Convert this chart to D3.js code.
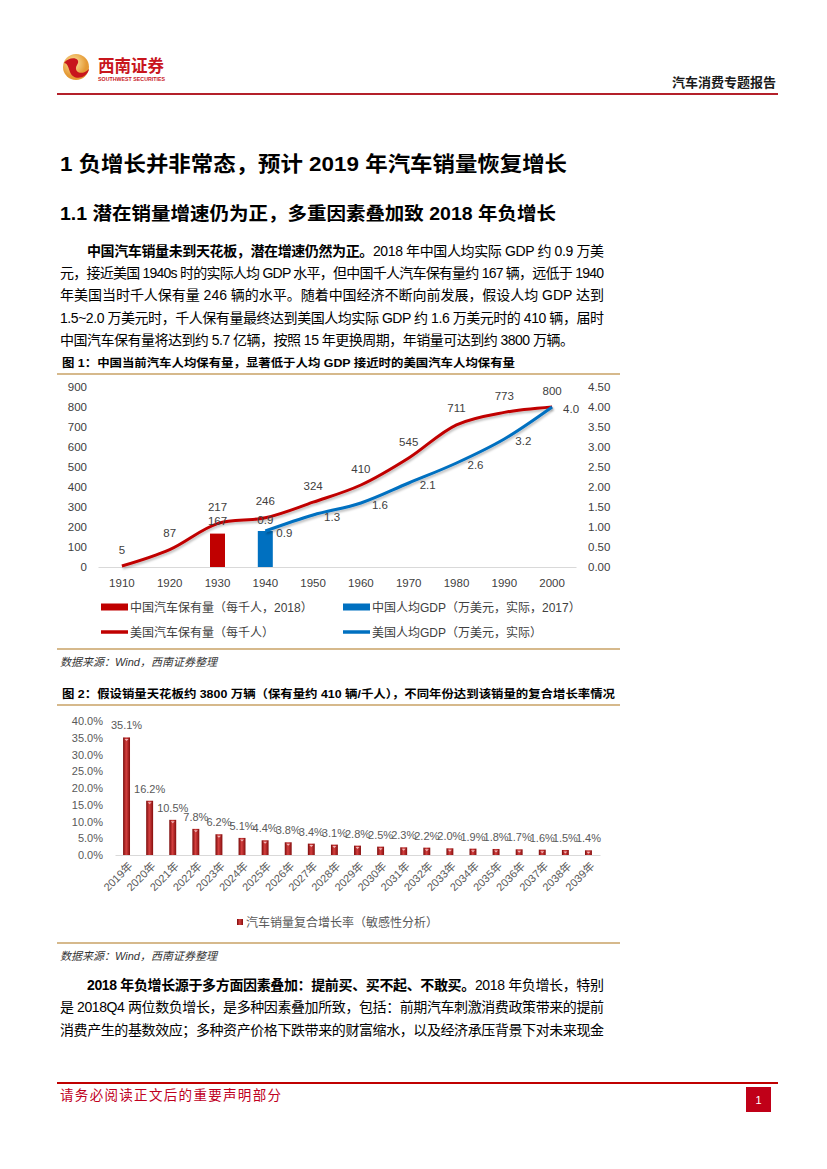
<!DOCTYPE html>
<html><head><meta charset="utf-8">
<script src="https://cdn.jsdelivr.net/npm/d3@7"></script>
<style>
body{margin:0;background:#fff}
svg text{font-family:"Liberation Sans","Noto Sans CJK SC",sans-serif}
</style></head><body>
<svg id="page" width="827" height="1169"></svg>
<script>
// ---------- DATA ----------
const years1 = ["1910","1920","1930","1940","1950","1960","1970","1980","1990","2000"];
const usCars = [5,87,217,246,324,410,545,711,773,800];
const usGdpYears = ["1940","1950","1960","1970","1980","1990","2000"];
const usGdp = [0.9,1.3,1.6,2.1,2.6,3.2,4.0];
const cnCarsYear = ["1930"];
const cnCars = [167];
const cnGdpYear = ["1940"];
const cnGdp = [0.9];
const leftTicks1 = [0,100,200,300,400,500,600,700,800,900];
const rightTicks1 = [0,0.5,1,1.5,2,2.5,3,3.5,4,4.5];

const years2 = ["2019年","2020年","2021年","2022年","2023年","2024年","2025年","2026年","2027年","2028年","2029年","2030年","2031年","2032年","2033年","2034年","2035年","2036年","2037年","2038年","2039年"];
const cagr = [35.1,16.2,10.5,7.8,6.2,5.1,4.4,3.8,3.4,3.1,2.8,2.5,2.3,2.2,2.0,1.9,1.8,1.7,1.6,1.5,1.4];
const ticks2 = [0,5,10,15,20,25,30,35,40];

// ---------- PAGE ----------
const svg = d3.select("#page");
const defs = svg.append("defs");
const NUM = 'Lato, "Noto Sans CJK SC", sans-serif';

// header logo
const lg = defs.append("radialGradient").attr("id","logoG").attr("cx","40%").attr("cy","35%");
lg.append("stop").attr("offset","0%").attr("stop-color","#fde9a6");
lg.append("stop").attr("offset","100%").attr("stop-color","#e59a35");
svg.append("circle").attr("cx",76).attr("cy",67).attr("r",13).attr("fill","url(#logoG)");
svg.append("path").attr("d","M64,63 C70,55 82,58 77,65 C73,71 81,77 89,69 C87,79 73,81 70,72 C68,66 67,63 64,63Z").attr("fill","#c8161d");
svg.append("text").attr("x",98).attr("y",72).attr("font-size",17).attr("font-weight",700)
  .attr("fill","#c8161d").attr("textLength",66).attr("lengthAdjust","spacingAndGlyphs").text("西南证券");
svg.append("text").attr("x",98).attr("y",80.5).attr("font-size",5.5).attr("font-weight",700)
  .attr("fill","#c8161d").attr("textLength",67).attr("lengthAdjust","spacingAndGlyphs").text("SOUTHWEST SECURITIES");
svg.append("text").attr("x",776).attr("y",87).attr("text-anchor","end").attr("font-size",13).attr("font-weight",700)
  .attr("fill","#1a1a1a").text("汽车消费专题报告");
svg.append("line").attr("x1",57).attr("x2",778).attr("y1",94).attr("y2",94).attr("stroke","#b4202a").attr("stroke-width",2.2);

// titles
svg.append("text").attr("x",60).attr("y",171).attr("font-size",21).attr("font-weight",700).attr("fill","#000")
  .attr("textLength",507).attr("lengthAdjust","spacingAndGlyphs").text("1  负增长并非常态，预计 2019 年汽车销量恢复增长");
svg.append("text").attr("x",60).attr("y",220).attr("font-size",18.5).attr("font-weight",700).attr("fill","#000")
  .attr("textLength",496).attr("lengthAdjust","spacingAndGlyphs").text("1.1  潜在销量增速仍为正，多重因素叠加致 2018 年负增长");

// paragraph helper
function para(lines, y0, dy){
  lines.forEach((ln,i)=>{
    const t = svg.append("text").attr("x",ln.x).attr("y",y0+i*dy).attr("font-size",14).attr("fill","#000");
    if(ln.w) t.attr("textLength",ln.w).attr("lengthAdjust","spacing");
    ln.s.forEach(sg=>{
      t.append("tspan").attr("font-weight",sg.b?700:400).text(sg.t);
    });
  });
}
para([
  {x:87,w:517,s:[{t:"中国汽车销量未到天花板，潜在增速仍然为正。",b:true},{t:"2018 年中国人均实际 GDP 约 0.9 万美"}]},
  {x:60,w:544,s:[{t:"元，接近美国 1940s 时的实际人均 GDP 水平，但中国千人汽车保有量约 167 辆，远低于 1940"}]},
  {x:60,w:544,s:[{t:"年美国当时千人保有量  246  辆的水平。随着中国经济不断向前发展，假设人均  GDP  达到"}]},
  {x:60,w:544,s:[{t:"1.5~2.0 万美元时，千人保有量最终达到美国人均实际 GDP 约 1.6 万美元时的 410 辆，届时"}]},
  {x:60,w:514,s:[{t:"中国汽车保有量将达到约 5.7 亿辆，按照 15 年更换周期，年销量可达到约 3800 万辆。"}]}
], 256, 22.2);

// ---------- FIGURE 1 ----------
svg.append("text").attr("x",62).attr("y",367).attr("font-size",11.5).attr("font-weight",700).attr("fill","#000")
  .attr("textLength",453).attr("lengthAdjust","spacingAndGlyphs")
  .text("图 1：中国当前汽车人均保有量，显著低于人均 GDP 接近时的美国汽车人均保有量");
svg.append("line").attr("x1",57).attr("x2",620).attr("y1",374).attr("y2",374).attr("stroke","#c9a266").attr("stroke-width",1.5);

const x1 = d3.scaleBand().domain(years1).range([98,576]);
const xc1 = d => x1(d)+x1.bandwidth()/2;
const yL = d3.scaleLinear().domain([0,900]).range([567,387]);
const yR = d3.scaleLinear().domain([0,4.5]).range([567,387]);

const shadow = defs.append("filter").attr("id","sh").attr("x","-10%").attr("y","-10%").attr("width","130%").attr("height","140%");
shadow.append("feDropShadow").attr("dx",1).attr("dy",2).attr("stdDeviation",1.2).attr("flood-color","#000").attr("flood-opacity",0.25);

const g1 = svg.append("g");
const axL = g1.append("g").attr("transform","translate(92,0)")
  .call(d3.axisLeft(yL).tickValues(leftTicks1).tickSize(0).tickPadding(5));
const axR = g1.append("g").attr("transform","translate(584,0)")
  .call(d3.axisRight(yR).tickValues(rightTicks1).tickSize(0).tickPadding(4).tickFormat(d3.format(".2f")));
const axB = g1.append("g").attr("transform","translate(0,567)")
  .call(d3.axisBottom(x1).tickSize(0).tickPadding(12));
[axL,axR].forEach(a=>a.select(".domain").remove());
axB.select(".domain").attr("stroke","#d9d9d9").attr("stroke-width",1);
[axL,axR,axB].forEach(a=>a.selectAll("text").attr("font-family",NUM).attr("font-size",11.5).attr("fill","#404040"));

// bars
g1.selectAll(".cnc").data(cnCars).enter().append("rect")
  .attr("x",(d,i)=>xc1(cnCarsYear[i])-7.5).attr("width",15)
  .attr("y",d=>yL(d)).attr("height",d=>yL(0)-yL(d)).attr("fill","#c00000");
g1.selectAll(".cng").data(cnGdp).enter().append("rect")
  .attr("x",(d,i)=>xc1(cnGdpYear[i])-7.5).attr("width",15)
  .attr("y",d=>yR(d)).attr("height",d=>yR(0)-yR(d)).attr("fill","#0070c0");

// lines
const lineCars = d3.line().x((d,i)=>xc1(years1[i])).y(d=>yL(d)).curve(d3.curveCatmullRom.alpha(0.5));
g1.append("path").attr("d",lineCars(usCars)).attr("fill","none").attr("stroke","#c00000").attr("stroke-width",3).attr("filter","url(#sh)");
const lineGdp = d3.line().x((d,i)=>xc1(usGdpYears[i])).y(d=>yR(d)).curve(d3.curveCatmullRom.alpha(0.5));
g1.append("path").attr("d",lineGdp(usGdp)).attr("fill","none").attr("stroke","#0070c0").attr("stroke-width",3).attr("filter","url(#sh)");

// labels
const lab = sel => sel.attr("font-family",NUM).attr("font-size",11.5).attr("fill","#404040");
g1.selectAll(".lc").data(usCars).enter().append("text").call(lab)
  .attr("x",(d,i)=>xc1(years1[i])).attr("y",d=>yL(d)-12.5).attr("text-anchor","middle").text(d=>d);
g1.selectAll(".lg").data(usGdp).enter().append("text").call(lab)
  .attr("x",(d,i)=>xc1(usGdpYears[i])+11).attr("y",d=>yR(d)+6).attr("text-anchor","start").text(d=>d.toFixed(1));
g1.selectAll(".lcc").data(cnCars).enter().append("text").call(lab)
  .attr("x",(d,i)=>xc1(cnCarsYear[i])).attr("y",d=>yL(d)-9).attr("text-anchor","middle").text(d=>d);
g1.selectAll(".lcg").data(cnGdp).enter().append("text").call(lab)
  .attr("x",(d,i)=>xc1(cnGdpYear[i])).attr("y",d=>yR(d)-7).attr("text-anchor","middle").text(d=>d.toFixed(1));

// legend 1
const leg1 = [
  {type:"rect",c:"#c00000",t:"中国汽车保有量（每千人，2018）",x:101,y:607},
  {type:"rect",c:"#0070c0",t:"中国人均GDP（万美元，实际，2017）",x:343,y:607},
  {type:"line",c:"#c00000",t:"美国汽车保有量（每千人）",x:101,y:632},
  {type:"line",c:"#0070c0",t:"美国人均GDP（万美元，实际）",x:343,y:632}
];
leg1.forEach(l=>{
  if(l.type==="rect") svg.append("rect").attr("x",l.x).attr("y",l.y-3.5).attr("width",27).attr("height",7).attr("fill",l.c);
  else svg.append("line").attr("x1",l.x).attr("x2",l.x+27).attr("y1",l.y).attr("y2",l.y).attr("stroke",l.c).attr("stroke-width",3.5);
  svg.append("text").attr("x",l.x+29).attr("y",l.y+4.5).attr("font-size",12).attr("fill","#404040").text(l.t);
});
svg.append("line").attr("x1",57).attr("x2",620).attr("y1",649).attr("y2",649).attr("stroke","#c9a266").attr("stroke-width",1.5);
svg.append("text").attr("x",60).attr("y",666).attr("font-size",11).attr("font-style","italic").attr("fill","#333").text("数据来源：Wind，西南证券整理");

// ---------- FIGURE 2 ----------
svg.append("text").attr("x",62).attr("y",698).attr("font-size",11.5).attr("font-weight",700).attr("fill","#000")
  .attr("textLength",553).attr("lengthAdjust","spacingAndGlyphs")
  .text("图 2：假设销量天花板约 3800 万辆（保有量约 410 辆/千人），不同年份达到该销量的复合增长率情况");
svg.append("line").attr("x1",57).attr("x2",620).attr("y1",705).attr("y2",705).attr("stroke","#c9a266").attr("stroke-width",1.5);

const x2 = d3.scaleBand().domain(years2).range([115,600]).paddingInner(0.7).paddingOuter(0.35);
const y2 = d3.scaleLinear().domain([0,40]).range([855,721]);
const bg = defs.append("linearGradient").attr("id","barG").attr("x1","0").attr("x2","1").attr("y1","0").attr("y2","0");
bg.append("stop").attr("offset","0%").attr("stop-color","#7a0a0a");
bg.append("stop").attr("offset","45%").attr("stop-color","#d4403f");
bg.append("stop").attr("offset","100%").attr("stop-color","#850d0d");

const g2 = svg.append("g");
const ax2 = g2.append("g").attr("transform","translate(108,0)")
  .call(d3.axisLeft(y2).tickValues(ticks2).tickSize(0).tickPadding(5).tickFormat(d=>d.toFixed(1)+"%"));
ax2.select(".domain").remove();
ax2.selectAll("text").attr("font-family",NUM).attr("font-size",11).attr("fill","#595959");
const ax2b = g2.append("g").attr("transform","translate(0,855)")
  .call(d3.axisBottom(x2).tickSize(0));
ax2b.select(".domain").attr("stroke","#d9d9d9");
ax2b.selectAll("text").attr("font-family",NUM).attr("font-size",11).attr("fill","#595959")
  .attr("x",0).attr("y",0).attr("dy","0.35em").attr("text-anchor","end").attr("transform","translate(4,9) rotate(-45)");

g2.selectAll(".b2").data(cagr).enter().append("rect")
  .attr("x",(d,i)=>x2(years2[i])).attr("width",x2.bandwidth())
  .attr("y",d=>y2(d)).attr("height",d=>y2(0)-y2(d)).attr("fill","url(#barG)");
g2.selectAll(".m2").data(cagr).enter().append("path")
  .attr("d",(d,i)=>{const c=x2(years2[i])+x2.bandwidth()/2, t=y2(d); return `M${c-2},${t+1.5}L${c+2},${t+1.5}L${c},${t+3.5}Z`;})
  .attr("fill","#f2b8b8");
g2.selectAll(".l2").data(cagr).enter().append("text")
  .attr("x",(d,i)=>x2(years2[i])+x2.bandwidth()/2).attr("y",d=>y2(d)-8)
  .attr("text-anchor","middle").attr("font-family",NUM).attr("font-size",11).attr("fill","#595959")
  .text(d=>d.toFixed(1)+"%");

// legend 2
svg.append("rect").attr("x",237).attr("y",919).attr("width",6).attr("height",6).attr("fill","url(#barG)");
svg.append("text").attr("x",246).attr("y",926.5).attr("font-size",12).attr("fill","#595959").text("汽车销量复合增长率（敏感性分析）");
svg.append("line").attr("x1",57).attr("x2",620).attr("y1",943).attr("y2",943).attr("stroke","#c9a266").attr("stroke-width",1.5);
svg.append("text").attr("x",60).attr("y",960).attr("font-size",11).attr("font-style","italic").attr("fill","#333").text("数据来源：Wind，西南证券整理");

// paragraph 2
para([
  {x:87,w:517,s:[{t:"2018 年负增长源于多方面因素叠加：提前买、买不起、不敢买。",b:true},{t:"2018 年负增长，特别"}]},
  {x:60,w:544,s:[{t:"是 2018Q4 两位数负增长，是多种因素叠加所致，包括：前期汽车刺激消费政策带来的提前"}]},
  {x:60,w:544,s:[{t:"消费产生的基数效应；多种资产价格下跌带来的财富缩水，以及经济承压背景下对未来现金"}]}
], 990, 22.3);

// footer
svg.append("line").attr("x1",57).attr("x2",778).attr("y1",1083).attr("y2",1083).attr("stroke","#c00000").attr("stroke-width",2);
svg.append("text").attr("x",60).attr("y",1100).attr("font-size",13.5).attr("fill","#c0001e")
  .attr("textLength",221).attr("lengthAdjust","spacing").text("请务必阅读正文后的重要声明部分");
svg.append("rect").attr("x",746).attr("y",1087).attr("width",25).attr("height",25).attr("fill","#c00018");
svg.append("text").attr("x",758.5).attr("y",1104).attr("text-anchor","middle").attr("font-size",11).attr("fill","#fff").text("1");
</script>
</body></html>
